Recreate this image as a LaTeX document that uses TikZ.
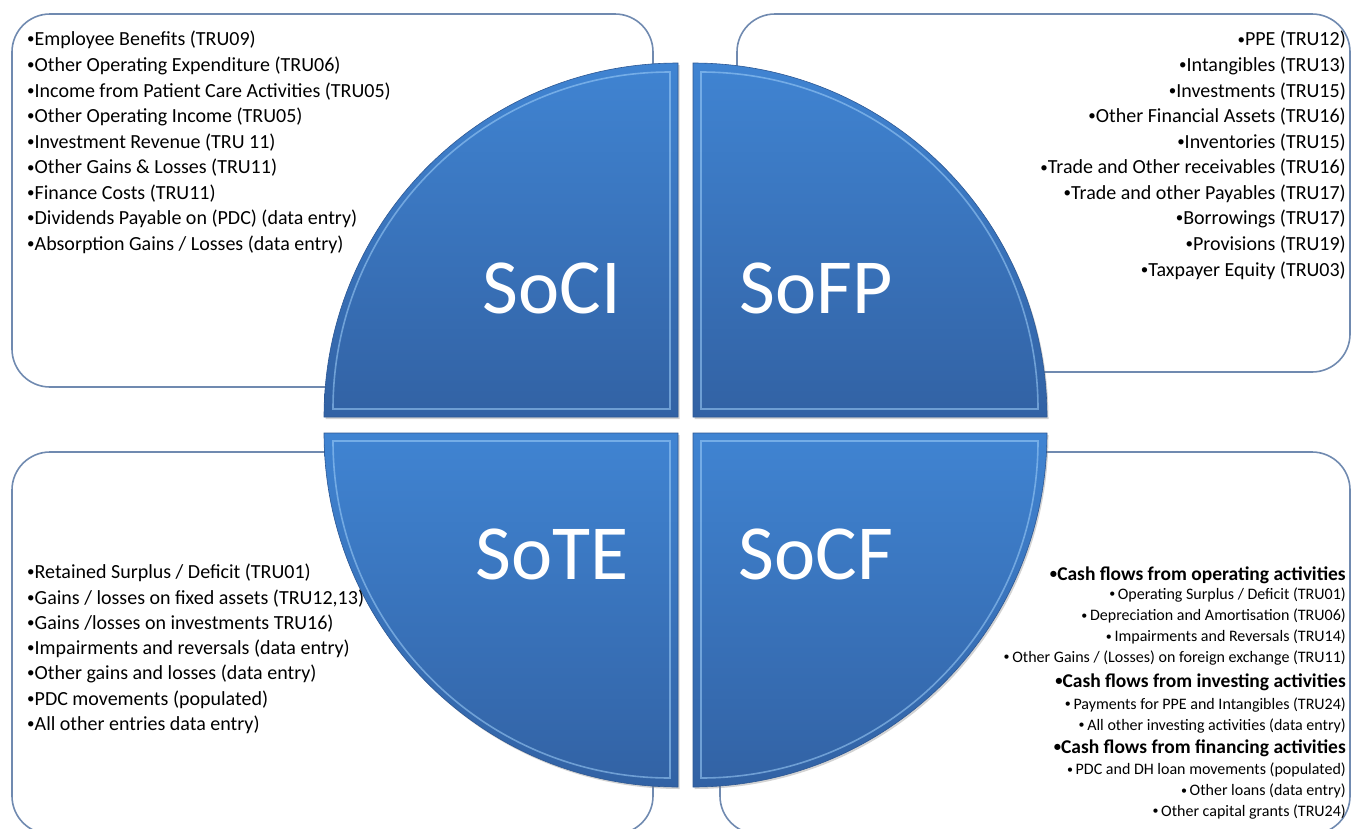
\documentclass[tikz,border=0pt]{standalone}
\usepackage{fontspec}
\setmainfont{Carlito}
\usetikzlibrary{shadows}

\definecolor{quadtop}{RGB}{64,132,210}
\definecolor{quadbot}{RGB}{50,98,164}
\definecolor{quadedge}{RGB}{160,208,250}
\definecolor{boxline}{RGB}{112,138,176}

% small list bullet
\newcommand\lbul{\raisebox{.2ex}{\scalebox{.75}{•}}}

\tikzset{
  quad/.style={top color=quadtop, bottom color=quadbot, draw=quadbot!90!black,
    line width=.6pt, drop shadow={opacity=.35, shadow xshift=1.5pt, shadow yshift=-2pt}},
  bevel/.style={draw=quadedge, line width=1.6pt, opacity=.55},
  textbox/.style={draw=boxline, line width=1.6pt, rounded corners=38pt},
  item/.style={font=\fontsize{20}{24}\selectfont, inner sep=0pt},
  head/.style={font=\bfseries\fontsize{19.5}{22}\selectfont, anchor=east, inner sep=0pt},
  sub/.style={font=\fontsize{16}{18}\selectfont, anchor=east, inner sep=0pt},
  quadlabel/.style={text=white, font=\fontsize{78}{90}\selectfont, inner sep=0pt}
}

\begin{document}
\begin{tikzpicture}[x=1pt,y=-1pt]
  \useasboundingbox (0,0) rectangle (1352,828);

  % text boxes behind the circle
  \draw[textbox] (12,14) rectangle (653,387);
  \draw[textbox] (737,14) rectangle (1350,372);
  \draw[textbox] (12,452) rectangle (653,834);
  \draw[textbox] (720,452) rectangle (1350,834);

  % the four quarters
  \draw[quad] (678,417) -- (324,417) arc[start angle=180, end angle=270, radius=354] -- cycle;
  \draw[quad] (693,417) -- (693,63) arc[start angle=270, end angle=360, radius=354] -- cycle;
  \draw[quad] (678,433) -- (324,433) arc[start angle=180, end angle=90, radius=354] -- cycle;
  \draw[quad] (693,433) -- (1047,433) arc[start angle=0, end angle=90, radius=354] -- cycle;
  \draw[bevel] (670,409) -- (333,409) arc[start angle=180, end angle=270, radius=337] -- cycle;
  \draw[bevel] (701,409) -- (701,72) arc[start angle=270, end angle=360, radius=337] -- cycle;
  \draw[bevel] (670,441) -- (333,441) arc[start angle=180, end angle=90, radius=337] -- cycle;
  \draw[bevel] (701,441) -- (1038,441) arc[start angle=0, end angle=90, radius=337] -- cycle;

  \node[quadlabel] (soci) at (552,288) {SoCI};
  \node[quadlabel] (sofp) at (816,288) {SoFP};
  \node[quadlabel] (sote) at (552,554) {SoTE};
  \node[quadlabel] (socf) at (816,554) {SoCF};

  % SoCI items
  \foreach \txt [count=\i] in {Employee Benefits (TRU09),
      Other Operating Expenditure (TRU06),
      Income from Patient Care Activities (TRU05),
      Other Operating Income (TRU05),
      Investment Revenue (TRU 11),
      Other Gains \& Losses (TRU11),
      Finance Costs (TRU11),
      Dividends Payable on (PDC) (data entry),
      Absorption Gains / Losses (data entry)}
    \node[item, anchor=west] (soci-\i) at (27,{40+25.6*(\i-1)}) {\lbul\txt};

  % SoFP items
  \foreach \txt [count=\i] in {PPE (TRU12),
      Intangibles (TRU13),
      Investments (TRU15),
      Other Financial Assets (TRU16),
      Inventories (TRU15),
      Trade and Other receivables (TRU16),
      Trade and other Payables (TRU17),
      Borrowings (TRU17),
      Provisions (TRU19),
      Taxpayer Equity (TRU03)}
    \node[item, anchor=east] (sofp-\i) at (1346,{40+25.6*(\i-1)}) {\lbul\txt};

  % SoTE items
  \foreach \txt [count=\i] in {Retained Surplus / Deficit (TRU01),
      {Gains / losses on fixed assets (TRU12,13)},
      Gains /losses on investments TRU16),
      Impairments and reversals (data entry),
      Other gains and losses (data entry),
      PDC movements (populated),
      All other entries data entry)}
    \node[item, anchor=west] (sote-\i) at (27,{573+25.3*(\i-1)}) {\lbul\txt};

  % SoCF items
  \foreach \y/\kind/\txt [count=\i] in {575/head/{Cash flows from operating activities},
      595/sub/{\,Operating Surplus / Deficit (TRU01)},
      616/sub/{\,Depreciation and Amortisation (TRU06)},
      637/sub/{\,Impairments and Reversals (TRU14)},
      658/sub/{\,Other Gains / (Losses) on foreign exchange (TRU11)},
      682/head/{Cash flows from investing activities},
      705/sub/{\,Payments for PPE and Intangibles (TRU24)},
      726/sub/{\,All other investing activities (data entry)},
      748/head/{Cash flows from financing activities},
      770/sub/{\,PDC and DH loan movements (populated)},
      791/sub/{\,Other loans (data entry)},
      812/sub/{\,Other capital grants (TRU24)}}
    \node[\kind] (socf-\i) at (1346,\y) {\lbul\txt};
\end{tikzpicture}
\end{document}
